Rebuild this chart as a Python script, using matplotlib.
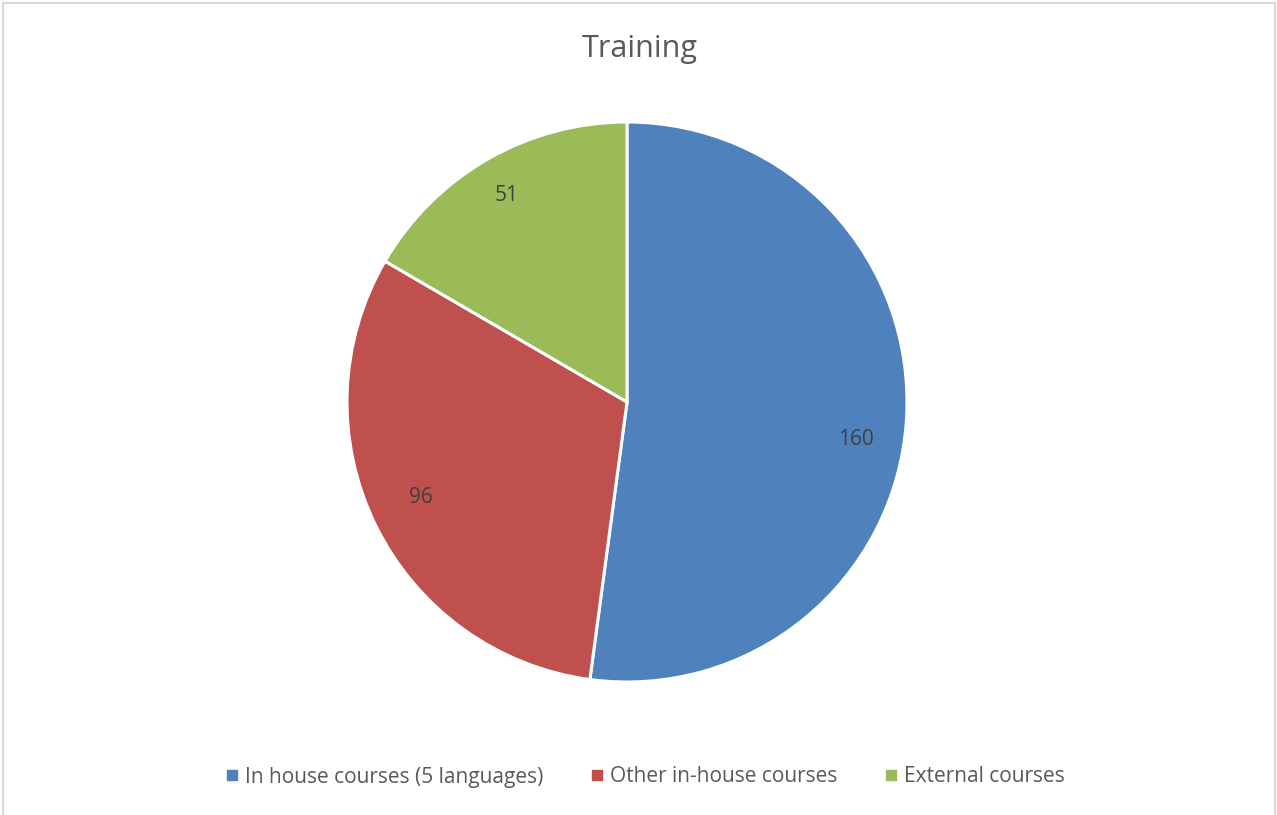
import matplotlib
matplotlib.use('Agg')
import matplotlib.pyplot as plt
from matplotlib.lines import Line2D
from matplotlib.patches import Rectangle

# 数据
categories = ['In house courses (5 languages)', 'Other in-house courses', 'External courses']
values = [160, 96, 51]
colors = ['#4F81BD', '#C0504D', '#9BBB59']

plt.rcParams['font.family'] = ['Open Sans', 'DejaVu Sans']

fig = plt.figure(figsize=(12.77, 8.15), dpi=100)

# 图表外框
fig.patches.append(Rectangle((3 / 1277, -0.01), 1272 / 1277, 1 - 3 / 815 + 0.01,
                             transform=fig.transFigure, fill=False,
                             edgecolor='#D9D9D9', linewidth=1.5))

ax = fig.add_axes([347 / 1277, 133 / 815, 560 / 1277, 560 / 815])
wedges, texts, autotexts = ax.pie(
    values, colors=colors, startangle=90, counterclock=False,
    autopct=lambda p: '{:.0f}'.format(p * sum(values) / 100),
    pctdistance=0.82, wedgeprops={'edgecolor': 'white', 'linewidth': 2.2},
    textprops={'fontsize': 15, 'color': '#404040'})
# 标签位置微调（类似Excel最佳位置）
autotexts[0].set_y(autotexts[0].get_position()[1] - 0.08)
autotexts[1].set_y(autotexts[1].get_position()[1] + 0.02)
autotexts[2].set_position((autotexts[2].get_position()[0] - 0.02,
                           autotexts[2].get_position()[1] + 0.025))
ax.set_xlim(-1, 1)
ax.set_ylim(-1, 1)
ax.set_aspect('equal')

fig.text(0.501, 1 - 49 / 815, 'Training', ha='center', va='center',
         fontsize=22, color='#595959')

handles = [Line2D([0], [0], marker='s', linestyle='none', markersize=7,
                  markerfacecolor=c, markeredgecolor=c) for c in colors]
fig.legend(handles, categories, loc='center', bbox_to_anchor=(0.505, 1 - 777 / 815),
           ncol=3, frameon=False, fontsize=15, labelcolor='#595959',
           handletextpad=0.3, columnspacing=2.2, handlelength=0.7)

fig.savefig('out.png', dpi=100)
